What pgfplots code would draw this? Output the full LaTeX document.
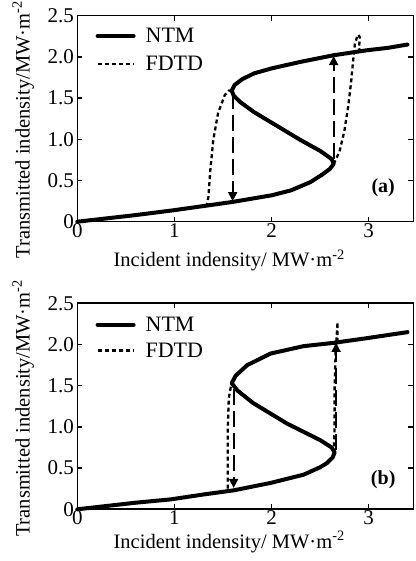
\documentclass[border=0pt]{standalone}
\usepackage{fontspec}
\setmainfont{Liberation Serif}
\usepackage{pgfplots}
\pgfplotsset{compat=1.18}
\usetikzlibrary{arrows.meta}

\newcommand\legfont{\fontsize{22}{24}\selectfont}

\pgfplotsset{
  bist/.style={
    width=336pt, height=206pt, scale only axis,
    xmin=0, xmax=3.46, ymin=0, ymax=2.5,
    xtick={0,1,2,3},
    ytick={0,0.5,1,1.5,2,2.5},
    yticklabels={0,0.5,1.0,1.5,2.0,2.5},
    tick align=inside, major tick length=5pt,
    axis line style={line width=1.6pt},
    every tick/.style={line width=1.4pt, black},
    tick label style={font=\fontsize{21}{23}\selectfont},
    xticklabel style={yshift=2pt},
    /pgf/number format/assume math mode=true,
    label style={font=\fontsize{20.5}{22}\selectfont},
    xlabel={Incident indensity/ MW·m\textsuperscript{-2}},
    ylabel={Transmitted indensity/MW·m\textsuperscript{-2}},
    legend style={draw=none, fill=none, at={(0.045,0.96)}, anchor=north west,
      font=\legfont, nodes={font=\legfont}, row sep=8pt,
      /tikz/every odd column/.append style={column sep=8pt}},
    legend cell align=left,
    legend image code/.code={\draw[#1] (0pt,0pt) -- (36pt,0pt);},
    clip=false,
  },
  ntm/.style={black, line width=4pt, line join=round, line cap=round},
  fdtd/.style={black, line width=2.3pt, dash pattern=on 4pt off 3pt},
  jump/.style={black, line width=1.8pt, dash pattern=on 16pt off 6pt,
    -{Triangle[length=9pt,width=9pt]}},
}

\begin{document}
\begin{tikzpicture}
\useasboundingbox (0pt,0pt) rectangle (415pt,561pt);

% ---- (a)
\begin{axis}[bist, at={(77.3pt,339.3pt)}, anchor=south west,
  xlabel style={at={(axis description cs:0.452,-0.218)}, anchor=base},
  ylabel style={at={(axis description cs:-0.161,0.447)}, anchor=center}]
\addplot[ntm] coordinates {
  (0,0) (0.3,0.04) (0.6,0.08) (1.0,0.14) (1.3,0.19) (1.6,0.24) (1.8,0.28)
  (2.0,0.32) (2.2,0.38) (2.4,0.48) (2.52,0.57) (2.6,0.64) (2.64,0.70)
  (2.62,0.76) (2.5,0.86) (2.3,0.99) (2.06,1.16) (1.82,1.33) (1.68,1.45)
  (1.61,1.53) (1.59,1.59) (1.62,1.66) (1.7,1.73) (1.82,1.80) (2.0,1.86)
  (2.3,1.94) (2.64,2.02) (2.98,2.08) (3.2,2.11) (3.40,2.15)
};
\addplot[fdtd] coordinates {
  (1.33,0.18) (1.35,0.30) (1.37,0.63) (1.40,0.99) (1.45,1.32) (1.52,1.54) (1.57,1.60)
};
\addplot[fdtd, forget plot] coordinates {
  (2.64,0.70) (2.70,0.85) (2.75,1.10) (2.79,1.40) (2.82,1.70) (2.84,1.95)
  (2.86,2.17) (2.89,2.27) (2.91,2.24) (2.90,2.10) (2.92,2.07)
};
\addplot[jump, forget plot] coordinates {(1.60,1.56) (1.60,0.25)};
\addplot[jump, forget plot] coordinates {(2.64,0.76) (2.64,2.01)};
\legend{\legfont NTM, \legfont FDTD}
\node[font=\bfseries\fontsize{20}{22}\selectfont] at (axis cs:3.15,0.41) {(a)};
\end{axis}

% ---- (b)
\begin{axis}[bist, at={(77.3pt,51.7pt)}, anchor=south west,
  legend style={at={(0.045,0.955)}, row sep=6pt},
  xlabel style={at={(axis description cs:0.452,-0.188)}, anchor=base},
  ylabel style={at={(axis description cs:-0.161,0.49)}, anchor=center}]
\addplot[ntm] coordinates {
  (0,0) (0.3,0.04) (0.6,0.08) (0.96,0.12) (1.3,0.18) (1.61,0.23) (1.99,0.32)
  (2.33,0.42) (2.5,0.51) (2.57,0.56) (2.63,0.63) (2.65,0.69) (2.62,0.75)
  (2.50,0.84) (2.16,1.04) (1.81,1.29) (1.65,1.44) (1.59,1.53) (1.63,1.62)
  (1.75,1.75) (1.99,1.89) (2.33,1.98) (2.64,2.02) (3.0,2.08) (3.4,2.15)
};
\addplot[fdtd] coordinates {
  (1.55,0.25) (1.55,0.6) (1.55,1.0) (1.56,1.35) (1.58,1.48) (1.60,1.53)
};
\addplot[fdtd, forget plot] coordinates {
  (2.64,0.68) (2.65,1.0) (2.65,1.5) (2.66,1.9) (2.68,2.27) (2.68,2.04)
};
\addplot[jump, forget plot] coordinates {(1.61,1.46) (1.61,0.26)};
\addplot[jump, forget plot] coordinates {(2.665,0.72) (2.665,2.02)};
\legend{\legfont NTM, \legfont FDTD}
\node[font=\bfseries\fontsize{20}{22}\selectfont] at (axis cs:3.15,0.36) {(b)};
\end{axis}
\end{tikzpicture}
\end{document}
